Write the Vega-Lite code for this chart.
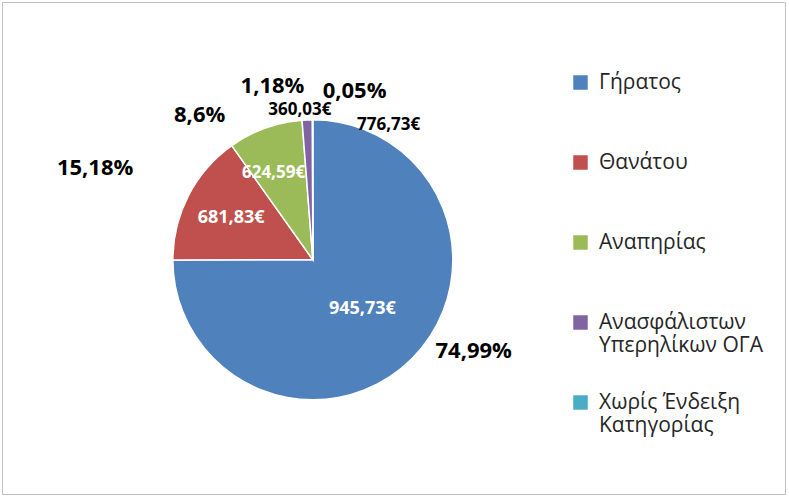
{
  "$schema": "https://vega.github.io/schema/vega-lite/v6.json",
  "width": 783,
  "height": 492,
  "autosize": "none",
  "padding": {"left": 2, "top": 2, "right": 4, "bottom": 5},
  "config": {
    "view": {"stroke": "#bfbfbf", "strokeWidth": 1},
    "font": "Open Sans"
  },
  "data": {
    "values": [
      {"cat": "Γήρατος", "ord": 1, "pct": 74.99, "pctLabel": "74,99%", "amount": "945,73€"},
      {"cat": "Θανάτου", "ord": 2, "pct": 15.18, "pctLabel": "15,18%", "amount": "681,83€"},
      {"cat": "Αναπηρίας", "ord": 3, "pct": 8.6, "pctLabel": "8,6%", "amount": "624,59€"},
      {"cat": "Ανασφάλιστων Υπερηλίκων ΟΓΑ", "ord": 4, "pct": 1.18, "pctLabel": "1,18%", "amount": "360,03€"},
      {"cat": "Χωρίς Ένδειξη Κατηγορίας", "ord": 5, "pct": 0.05, "pctLabel": "0,05%", "amount": "776,73€"}
    ]
  },
  "encoding": {
    "theta": {"field": "pct", "type": "quantitative", "stack": true},
    "order": {"field": "ord", "type": "quantitative"},
    "x": {"datum": 0.397, "type": "quantitative", "scale": {"domain": [0, 1]}, "axis": null},
    "y": {"datum": 0.476, "type": "quantitative", "scale": {"domain": [0, 1]}, "axis": null}
  },
  "layer": [
    {
      "mark": {"type": "arc", "outerRadius": 140, "stroke": "white", "strokeWidth": 1.5},
      "encoding": {
        "color": {
          "field": "cat",
          "type": "nominal",
          "scale": {
            "domain": ["Γήρατος", "Θανάτου", "Αναπηρίας", "Ανασφάλιστων Υπερηλίκων ΟΓΑ", "Χωρίς Ένδειξη Κατηγορίας"],
            "range": ["#4F81BD", "#C0504D", "#9BBB59", "#8064A2", "#4BACC6"]
          },
          "legend": {
            "title": null,
            "orient": "none",
            "legendX": 568,
            "legendY": 70,
            "symbolType": "square",
            "symbolSize": 210,
            "symbolStrokeWidth": 0,
            "labelFontSize": 21,
            "labelColor": "#262626",
            "labelFont": "Open Sans",
            "labelLimit": 300,
            "labelOffset": 8,
            "gridAlign": "all",
            "rowPadding": 35,
            "labelExpr": "datum.label == 'Ανασφάλιστων Υπερηλίκων ΟΓΑ' ? ['Ανασφάλιστων', 'Υπερηλίκων ΟΓΑ'] : datum.label == 'Χωρίς Ένδειξη Κατηγορίας' ? ['Χωρίς Ένδειξη', 'Κατηγορίας'] : datum.label"
          }
        }
      }
    },
    {
      "mark": {"type": "text", "radius": 185, "dx": 30, "dy": -40, "fontSize": 22, "fontWeight": "bold", "color": "black"},
      "encoding": {"text": {"condition": {"test": "datum.ord == 1", "field": "pctLabel"}, "value": ""}}
    },
    {
      "mark": {"type": "text", "radius": 200, "dx": -40, "fontSize": 22, "fontWeight": "bold", "color": "black"},
      "encoding": {"text": {"condition": {"test": "datum.ord == 2", "field": "pctLabel"}, "value": ""}}
    },
    {
      "mark": {"type": "text", "radius": 165, "dx": -57, "dy": 10, "fontSize": 22, "fontWeight": "bold", "color": "black"},
      "encoding": {"text": {"condition": {"test": "datum.ord == 3", "field": "pctLabel"}, "value": ""}}
    },
    {
      "mark": {"type": "text", "radius": 182, "dx": -33, "dy": 8, "fontSize": 22, "fontWeight": "bold", "color": "black"},
      "encoding": {"text": {"condition": {"test": "datum.ord == 4", "field": "pctLabel"}, "value": ""}}
    },
    {
      "mark": {"type": "text", "radius": 178, "dx": 42, "dy": 9, "fontSize": 22, "fontWeight": "bold", "color": "black"},
      "encoding": {"text": {"condition": {"test": "datum.ord == 5", "field": "pctLabel"}, "value": ""}}
    },
    {
      "mark": {"type": "text", "radius": 70, "fontSize": 18, "fontWeight": "bold", "color": "white"},
      "encoding": {"text": {"condition": {"test": "datum.ord == 1", "field": "amount"}, "value": ""}}
    },
    {
      "mark": {"type": "text", "radius": 92, "fontSize": 18, "fontWeight": "bold", "color": "white"},
      "encoding": {"text": {"condition": {"test": "datum.ord == 2", "field": "amount"}, "value": ""}}
    },
    {
      "mark": {"type": "text", "radius": 92, "dx": -8, "fontSize": 17, "fontWeight": "bold", "color": "white"},
      "encoding": {"text": {"condition": {"test": "datum.ord == 3", "field": "amount"}, "value": ""}}
    },
    {
      "mark": {"type": "text", "radius": 150, "dx": -7, "fontSize": 17, "fontWeight": "bold", "color": "black"},
      "encoding": {"text": {"condition": {"test": "datum.ord == 4", "field": "amount"}, "value": ""}}
    },
    {
      "mark": {"type": "text", "radius": 150, "dx": 76, "dy": 15, "fontSize": 17, "fontWeight": "bold", "color": "black"},
      "encoding": {"text": {"condition": {"test": "datum.ord == 5", "field": "amount"}, "value": ""}}
    }
  ]
}
